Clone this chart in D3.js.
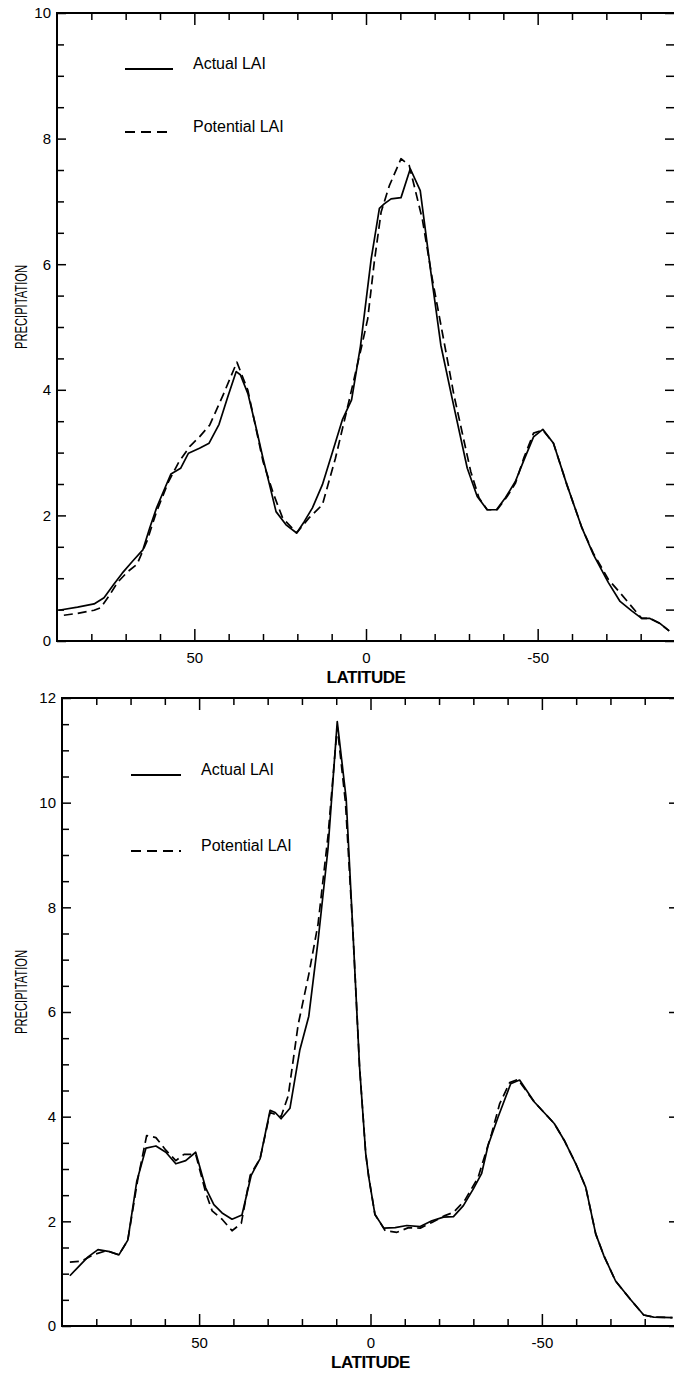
<!DOCTYPE html>
<html>
<head>
<meta charset="utf-8">
<script src="https://cdn.jsdelivr.net/npm/d3@7"></script>
<style>
  html, body { margin: 0; padding: 0; background: #fff; }
  svg { display: block; font-family: 'Liberation Sans', Arial, Helvetica, sans-serif; }
  .tick text { font-size: 15px; fill: #000; font-family: 'Liberation Sans', Arial, Helvetica, sans-serif; }
  .tick line { stroke: #000; stroke-width: 1.5; }
  .frame { fill: none; stroke: #000; stroke-width: 2; }
  .curve { fill: none; stroke: #000; stroke-width: 1.7; stroke-linejoin: round; }
  .curve.potential { stroke-dasharray: 9,5; }
  .legend-text { font-size: 16px; fill: #000; }
  .axis-title { font-size: 17px; font-weight: bold; letter-spacing: -0.5px; fill: #000; }
  .y-title { font-size: 16px; fill: #000; }
</style>
</head>
<body>
<svg id="chart" width="674" height="1377"></svg>
<script>
// latitude ticks (90N on the left, 90S on the right)
const latMajorTicks = [50, 0, -50]
const latMinorTicks = [80, 70, 60, 40, 30, 20, 10, -10, -20, -30, -40, -60, -70, -80]

const topYMajor = [0, 2, 4, 6, 8, 10]
const bottomYMajor = [0, 2, 4, 6, 8, 10, 12]
const yMinorStep = 0.5

const legendLabels = ['Actual LAI', 'Potential LAI']

// upper panel, [latitude, precipitation]
const topActual = [
  [89.5, 0.49], [84, 0.54], [79.2, 0.59], [76.3, 0.69], [73.5, 0.9], [71, 1.08], [68, 1.27],
  [65, 1.45], [63, 1.8], [61, 2.12], [59, 2.38], [56.8, 2.66], [54, 2.75], [51.7, 2.99],
  [48.5, 3.07], [45.7, 3.15], [42.8, 3.45], [40.3, 3.88], [37.8, 4.29], [36.6, 4.24],
  [34.4, 3.94], [32.2, 3.44], [30, 2.91], [28.1, 2.49], [26.2, 2.06], [23.3, 1.85],
  [20.2, 1.72], [18, 1.9], [15.6, 2.12], [12.7, 2.49], [9.8, 3.0], [6.9, 3.52], [4.2, 3.84],
  [1.6, 4.7], [-1.5, 6.08], [-3.9, 6.89], [-5.3, 6.96], [-7.3, 7.04], [-10.2, 7.06],
  [-12.9, 7.52], [-15.8, 7.17], [-18.9, 5.87], [-21.8, 4.71], [-25.1, 3.86], [-29.5, 2.75],
  [-32.4, 2.3], [-35.3, 2.09], [-38, 2.09], [-40.6, 2.28], [-43.5, 2.54], [-46, 2.88],
  [-48.8, 3.25], [-51.5, 3.37], [-54.6, 3.15], [-58.5, 2.49], [-62.9, 1.8], [-66.2, 1.38],
  [-70.6, 0.93], [-74, 0.63], [-77.4, 0.48], [-80.3, 0.36], [-82.7, 0.36], [-85.6, 0.28],
  [-88.3, 0.16]
]
const topPotential = [
  [88, 0.41], [84, 0.44], [79.2, 0.49], [77.3, 0.53], [74.8, 0.72], [72.4, 0.93], [69.5, 1.1],
  [66.7, 1.22], [63.8, 1.59], [61, 2.06], [57.5, 2.54], [54.5, 2.85], [51.3, 3.1], [48.5, 3.25],
  [45.5, 3.44], [41.6, 3.92], [37.6, 4.44], [34.4, 3.99], [30, 2.86], [27, 2.35], [24.3, 1.96],
  [20.2, 1.72], [16.6, 1.96], [12.7, 2.17], [8.9, 2.91], [5, 3.81], [1.2, 4.71], [-0.5, 5.13],
  [-2.4, 6.03], [-4.4, 6.83], [-6.8, 7.25], [-10.2, 7.68], [-12.6, 7.57], [-16.4, 6.72],
  [-19.3, 5.77], [-22.2, 4.92], [-25.6, 3.92], [-30.5, 2.7], [-32.9, 2.28], [-35.3, 2.09],
  [-38.2, 2.09], [-41.1, 2.3], [-43.5, 2.51], [-46, 2.92], [-48.8, 3.31], [-51.5, 3.36],
  [-54.6, 3.15], [-58.5, 2.49], [-62.9, 1.8], [-66.2, 1.4], [-70.6, 0.98], [-73.8, 0.78],
  [-76.9, 0.58], [-80.3, 0.36], [-82.7, 0.36], [-85.6, 0.28], [-88.3, 0.16]
]

// lower panel, [latitude, precipitation]
const bottomActual = [
  [87.7, 0.96], [84.8, 1.16], [82.4, 1.32], [79.5, 1.46], [76.1, 1.42], [73.4, 1.36],
  [70.8, 1.64], [68.2, 2.76], [65.5, 3.4], [62.6, 3.44], [59.7, 3.32], [56.8, 3.1],
  [53.9, 3.16], [51, 3.32], [48.1, 2.64], [45.7, 2.32], [43.3, 2.16], [40.4, 2.04],
  [37.5, 2.12], [34.8, 2.88], [32.2, 3.2], [29.3, 4.12], [27.8, 4.08], [26.1, 3.96],
  [23.5, 4.16], [20.6, 5.28], [18, 5.92], [15.3, 7.36], [12.4, 9.12], [9.7, 11.55],
  [7.1, 10.08], [5.1, 7.5], [3.2, 4.96], [1.4, 3.3], [0.5, 2.84], [-1.3, 2.13], [-3.9, 1.87],
  [-7.2, 1.88], [-10.6, 1.92], [-14.5, 1.9], [-17.9, 2.01], [-21.3, 2.08], [-24.2, 2.09],
  [-27.1, 2.3], [-30, 2.62], [-32.4, 2.91], [-34.3, 3.45], [-37.2, 3.99], [-40.9, 4.63],
  [-43.5, 4.7], [-47.8, 4.28], [-53.6, 3.87], [-56.5, 3.55], [-59.9, 3.1], [-62.8, 2.65],
  [-65.7, 1.76], [-68.1, 1.34], [-71.5, 0.86], [-75.8, 0.51], [-79.7, 0.21], [-82.6, 0.17],
  [-88.1, 0.16]
]
const bottomPotential = [
  [87.7, 1.22], [84.3, 1.24], [80.9, 1.36], [77, 1.44], [73.4, 1.36], [70.8, 1.64],
  [67.9, 2.8], [65.3, 3.64], [62.6, 3.6], [59.7, 3.36], [56.8, 3.16], [54.4, 3.28], [51, 3.28],
  [48.1, 2.56], [46.2, 2.2], [43.3, 2.04], [40.4, 1.82], [37.7, 1.96], [35.1, 2.88],
  [32.2, 3.2], [29.3, 4.08], [26.1, 4.0], [24, 4.4], [21.1, 5.76], [18, 6.72], [15.3, 7.68],
  [12.4, 9.36], [9.7, 11.45], [7.3, 10.0], [5.1, 7.5], [3.2, 4.96], [1.4, 3.3], [0.5, 2.84],
  [-1.3, 2.13], [-4.3, 1.82], [-7.7, 1.79], [-11.1, 1.88], [-14.5, 1.87], [-17.9, 1.98],
  [-21.7, 2.11], [-24.2, 2.17], [-27.5, 2.4], [-31.4, 2.84], [-35.3, 3.67], [-37.7, 4.25],
  [-40.6, 4.65], [-43, 4.71], [-47.8, 4.28], [-53.6, 3.87], [-56.5, 3.55], [-59.9, 3.1],
  [-62.8, 2.65], [-65.7, 1.76], [-68.1, 1.34], [-71.5, 0.86], [-75.8, 0.51], [-79.7, 0.21],
  [-82.6, 0.17], [-88.1, 0.16]
]

const svg = d3.select('#chart')

function noDomain(sel) {
  sel.select('.domain').remove()
}

function drawPanel({ actual, potential, yMax, yMajor, rightMinor, box, legend }) {
  const x = d3.scaleLinear().domain([90, -90]).range([box.left, box.right])
  const y = d3.scaleLinear().domain([0, yMax]).range([box.bottom, box.top])
  const yMinor = d3.range(0, yMax + 0.01, yMinorStep).filter((v) => !yMajor.includes(v))

  const g = svg.append('g')

  // bottom axis: inward ticks, labels below
  g.append('g').attr('transform', `translate(0,${box.bottom})`)
    .call(d3.axisBottom(x).tickValues(latMinorTicks).tickSize(-7).tickFormat(''))
    .call(noDomain)
  g.append('g').attr('transform', `translate(0,${box.bottom})`)
    .call(d3.axisBottom(x).tickValues(latMajorTicks).tickSize(-12).tickPadding(11).tickFormat((d) => String(d)))
    .call(noDomain)

  // top frame ticks
  g.append('g').attr('transform', `translate(0,${box.top})`)
    .call(d3.axisTop(x).tickValues(latMinorTicks).tickSize(-7).tickFormat(''))
    .call(noDomain)
  g.append('g').attr('transform', `translate(0,${box.top})`)
    .call(d3.axisTop(x).tickValues(latMajorTicks).tickSize(-12).tickFormat(''))
    .call(noDomain)

  // left axis
  g.append('g').attr('transform', `translate(${box.left},0)`)
    .call(d3.axisLeft(y).tickValues(yMinor).tickSize(-7).tickFormat(''))
    .call(noDomain)
  g.append('g').attr('transform', `translate(${box.left},0)`)
    .call(d3.axisLeft(y).tickValues(yMajor).tickSize(-9).tickPadding(6).tickFormat((d) => String(d)))
    .call(noDomain)

  // right frame ticks
  g.append('g').attr('transform', `translate(${box.right},0)`)
    .call(d3.axisRight(y).tickValues(rightMinor ? yMinor : []).tickSize(-9).tickFormat(''))
    .call(noDomain)
  g.append('g').attr('transform', `translate(${box.right},0)`)
    .call(d3.axisRight(y).tickValues(yMajor).tickSize(-10).tickFormat(''))
    .call(noDomain)

  g.append('rect').attr('class', 'frame')
    .attr('x', box.left).attr('y', box.top)
    .attr('width', box.right - box.left).attr('height', box.bottom - box.top)

  const line = d3.line().x((d) => x(d[0])).y((d) => y(d[1]))

  g.append('path').attr('class', 'curve potential').attr('d', line(potential))
  g.append('path').attr('class', 'curve actual').attr('d', line(actual))

  // legend
  legend.rows.forEach((rowY, i) => {
    g.append('line')
      .attr('class', i === 0 ? 'curve' : 'curve potential')
      .attr('x1', legend.x1).attr('x2', legend.x2)
      .attr('y1', rowY).attr('y2', rowY)
      .style('stroke-width', 2)
      .style('stroke-dasharray', i === 0 ? null : '10,6')
    g.append('text').attr('class', 'legend-text')
      .attr('x', legend.textX).attr('y', rowY)
      .text(legendLabels[i])
  })

  // axis titles (the original lettering is condensed)
  g.append('text').attr('class', 'axis-title')
    .attr('text-anchor', 'middle')
    .attr('x', x(0)).attr('y', box.bottom + 42)
    .text('LATITUDE')
  g.append('text').attr('class', 'y-title')
    .attr('text-anchor', 'middle')
    .attr('transform', `translate(21,${box.top + 294}) rotate(-90) scale(0.7,1)`)
    .attr('dy', '0.35em')
    .text('PRECIPITATION')
}

drawPanel({
  actual: topActual,
  potential: topPotential,
  yMax: 10,
  yMajor: topYMajor,
  rightMinor: true,
  box: { left: 57, right: 675, top: 13, bottom: 641 },
  legend: { x1: 125, x2: 173, textX: 193, rows: [69, 132] },
})

drawPanel({
  actual: bottomActual,
  potential: bottomPotential,
  yMax: 12,
  yMajor: bottomYMajor,
  rightMinor: false,
  box: { left: 62, right: 679, top: 698, bottom: 1326 },
  legend: { x1: 131, x2: 181, textX: 201, rows: [775, 851] },
})
</script>
</body>
</html>
